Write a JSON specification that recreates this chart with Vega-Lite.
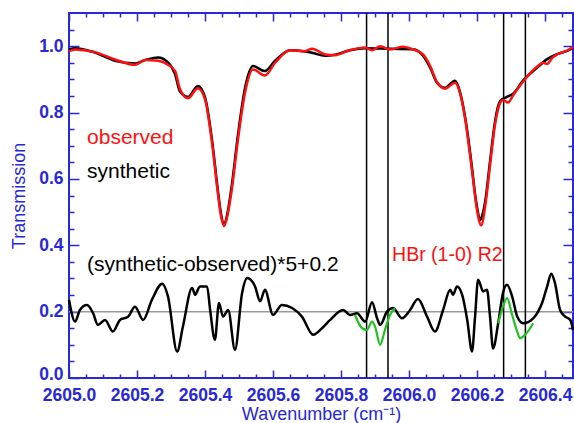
{
  "$schema": "https://vega.github.io/schema/vega-lite/v6.json",
  "width": 504,
  "height": 365,
  "autosize": "none",
  "padding": {"left": 69, "top": 13, "right": 1, "bottom": 45},
  "background": "white",
  "config": {
    "view": {"stroke": "#2828d4", "strokeWidth": 2},
    "axis": {
      "grid": false,
      "domain": false,
      "labelFont": "Liberation Sans",
      "labelFontWeight": "bold",
      "labelFontSize": 17.5,
      "labelColor": "#2828d4",
      "tickColor": "#2828d4",
      "tickWidth": 1.5,
      "titleFont": "Liberation Sans",
      "titleFontSize": 18,
      "titleFontWeight": "normal",
      "titleColor": "#2828d4",
      "labelFlush": false
    }
  },
  "datasets": {
    "curves": [
      {"x": 2605.000, "y": 0.990, "s": "synthetic"},
      {"x": 2605.018, "y": 0.994, "s": "synthetic"},
      {"x": 2605.076, "y": 0.981, "s": "synthetic"},
      {"x": 2605.135, "y": 0.956, "s": "synthetic"},
      {"x": 2605.194, "y": 0.948, "s": "synthetic"},
      {"x": 2605.224, "y": 0.958, "s": "synthetic"},
      {"x": 2605.262, "y": 0.966, "s": "synthetic"},
      {"x": 2605.291, "y": 0.951, "s": "synthetic"},
      {"x": 2605.312, "y": 0.915, "s": "synthetic"},
      {"x": 2605.326, "y": 0.864, "s": "synthetic"},
      {"x": 2605.350, "y": 0.847, "s": "synthetic"},
      {"x": 2605.379, "y": 0.880, "s": "synthetic"},
      {"x": 2605.400, "y": 0.846, "s": "synthetic"},
      {"x": 2605.421, "y": 0.714, "s": "synthetic"},
      {"x": 2605.438, "y": 0.563, "s": "synthetic"},
      {"x": 2605.447, "y": 0.495, "s": "synthetic"},
      {"x": 2605.456, "y": 0.462, "s": "synthetic"},
      {"x": 2605.465, "y": 0.492, "s": "synthetic"},
      {"x": 2605.479, "y": 0.583, "s": "synthetic"},
      {"x": 2605.497, "y": 0.734, "s": "synthetic"},
      {"x": 2605.518, "y": 0.876, "s": "synthetic"},
      {"x": 2605.541, "y": 0.940, "s": "synthetic"},
      {"x": 2605.576, "y": 0.925, "s": "synthetic"},
      {"x": 2605.606, "y": 0.956, "s": "synthetic"},
      {"x": 2605.650, "y": 0.988, "s": "synthetic"},
      {"x": 2605.694, "y": 0.984, "s": "synthetic"},
      {"x": 2605.715, "y": 0.980, "s": "synthetic"},
      {"x": 2605.753, "y": 0.971, "s": "synthetic"},
      {"x": 2605.782, "y": 0.974, "s": "synthetic"},
      {"x": 2605.826, "y": 0.988, "s": "synthetic"},
      {"x": 2605.871, "y": 0.994, "s": "synthetic"},
      {"x": 2605.944, "y": 0.992, "s": "synthetic"},
      {"x": 2606.012, "y": 0.991, "s": "synthetic"},
      {"x": 2606.041, "y": 0.971, "s": "synthetic"},
      {"x": 2606.062, "y": 0.935, "s": "synthetic"},
      {"x": 2606.082, "y": 0.890, "s": "synthetic"},
      {"x": 2606.106, "y": 0.875, "s": "synthetic"},
      {"x": 2606.135, "y": 0.896, "s": "synthetic"},
      {"x": 2606.150, "y": 0.861, "s": "synthetic"},
      {"x": 2606.165, "y": 0.785, "s": "synthetic"},
      {"x": 2606.185, "y": 0.634, "s": "synthetic"},
      {"x": 2606.194, "y": 0.555, "s": "synthetic"},
      {"x": 2606.200, "y": 0.514, "s": "synthetic"},
      {"x": 2606.209, "y": 0.477, "s": "synthetic"},
      {"x": 2606.215, "y": 0.490, "s": "synthetic"},
      {"x": 2606.224, "y": 0.533, "s": "synthetic"},
      {"x": 2606.238, "y": 0.653, "s": "synthetic"},
      {"x": 2606.253, "y": 0.775, "s": "synthetic"},
      {"x": 2606.268, "y": 0.835, "s": "synthetic"},
      {"x": 2606.288, "y": 0.847, "s": "synthetic"},
      {"x": 2606.306, "y": 0.857, "s": "synthetic"},
      {"x": 2606.335, "y": 0.896, "s": "synthetic"},
      {"x": 2606.376, "y": 0.935, "s": "synthetic"},
      {"x": 2606.406, "y": 0.961, "s": "synthetic"},
      {"x": 2606.435, "y": 0.976, "s": "synthetic"},
      {"x": 2606.465, "y": 0.986, "s": "synthetic"},
      {"x": 2606.482, "y": 0.994, "s": "synthetic"},

      {"x": 2605.000, "y": 0.985, "s": "observed"},
      {"x": 2605.018, "y": 0.990, "s": "observed"},
      {"x": 2605.076, "y": 0.982, "s": "observed"},
      {"x": 2605.135, "y": 0.960, "s": "observed"},
      {"x": 2605.194, "y": 0.944, "s": "observed"},
      {"x": 2605.224, "y": 0.958, "s": "observed"},
      {"x": 2605.262, "y": 0.956, "s": "observed"},
      {"x": 2605.291, "y": 0.944, "s": "observed"},
      {"x": 2605.312, "y": 0.925, "s": "observed"},
      {"x": 2605.326, "y": 0.872, "s": "observed"},
      {"x": 2605.350, "y": 0.843, "s": "observed"},
      {"x": 2605.379, "y": 0.873, "s": "observed"},
      {"x": 2605.400, "y": 0.840, "s": "observed"},
      {"x": 2605.421, "y": 0.705, "s": "observed"},
      {"x": 2605.438, "y": 0.555, "s": "observed"},
      {"x": 2605.447, "y": 0.488, "s": "observed"},
      {"x": 2605.456, "y": 0.458, "s": "observed"},
      {"x": 2605.465, "y": 0.485, "s": "observed"},
      {"x": 2605.479, "y": 0.570, "s": "observed"},
      {"x": 2605.497, "y": 0.720, "s": "observed"},
      {"x": 2605.518, "y": 0.862, "s": "observed"},
      {"x": 2605.541, "y": 0.930, "s": "observed"},
      {"x": 2605.576, "y": 0.912, "s": "observed"},
      {"x": 2605.606, "y": 0.950, "s": "observed"},
      {"x": 2605.650, "y": 0.988, "s": "observed"},
      {"x": 2605.694, "y": 0.985, "s": "observed"},
      {"x": 2605.715, "y": 0.992, "s": "observed"},
      {"x": 2605.753, "y": 0.975, "s": "observed"},
      {"x": 2605.782, "y": 0.973, "s": "observed"},
      {"x": 2605.826, "y": 0.988, "s": "observed"},
      {"x": 2605.871, "y": 0.996, "s": "observed"},
      {"x": 2605.891, "y": 0.988, "s": "observed"},
      {"x": 2605.915, "y": 1.000, "s": "observed"},
      {"x": 2605.944, "y": 0.990, "s": "observed"},
      {"x": 2605.982, "y": 0.998, "s": "observed"},
      {"x": 2606.012, "y": 0.990, "s": "observed"},
      {"x": 2606.041, "y": 0.975, "s": "observed"},
      {"x": 2606.062, "y": 0.940, "s": "observed"},
      {"x": 2606.082, "y": 0.892, "s": "observed"},
      {"x": 2606.106, "y": 0.872, "s": "observed"},
      {"x": 2606.135, "y": 0.890, "s": "observed"},
      {"x": 2606.150, "y": 0.858, "s": "observed"},
      {"x": 2606.165, "y": 0.780, "s": "observed"},
      {"x": 2606.185, "y": 0.625, "s": "observed"},
      {"x": 2606.200, "y": 0.505, "s": "observed"},
      {"x": 2606.212, "y": 0.460, "s": "observed"},
      {"x": 2606.224, "y": 0.520, "s": "observed"},
      {"x": 2606.238, "y": 0.640, "s": "observed"},
      {"x": 2606.253, "y": 0.765, "s": "observed"},
      {"x": 2606.268, "y": 0.830, "s": "observed"},
      {"x": 2606.276, "y": 0.838, "s": "observed"},
      {"x": 2606.291, "y": 0.830, "s": "observed"},
      {"x": 2606.306, "y": 0.852, "s": "observed"},
      {"x": 2606.335, "y": 0.893, "s": "observed"},
      {"x": 2606.376, "y": 0.938, "s": "observed"},
      {"x": 2606.394, "y": 0.950, "s": "observed"},
      {"x": 2606.406, "y": 0.946, "s": "observed"},
      {"x": 2606.421, "y": 0.965, "s": "observed"},
      {"x": 2606.435, "y": 0.975, "s": "observed"},
      {"x": 2606.465, "y": 0.987, "s": "observed"},
      {"x": 2606.482, "y": 0.997, "s": "observed"},

      {"x": 2605.000, "y": 0.236, "s": "residual"},
      {"x": 2605.018, "y": 0.170, "s": "residual"},
      {"x": 2605.032, "y": 0.205, "s": "residual"},
      {"x": 2605.053, "y": 0.220, "s": "residual"},
      {"x": 2605.071, "y": 0.195, "s": "residual"},
      {"x": 2605.085, "y": 0.160, "s": "residual"},
      {"x": 2605.106, "y": 0.175, "s": "residual"},
      {"x": 2605.129, "y": 0.140, "s": "residual"},
      {"x": 2605.150, "y": 0.175, "s": "residual"},
      {"x": 2605.174, "y": 0.185, "s": "residual"},
      {"x": 2605.194, "y": 0.215, "s": "residual"},
      {"x": 2605.218, "y": 0.175, "s": "residual"},
      {"x": 2605.244, "y": 0.236, "s": "residual"},
      {"x": 2605.274, "y": 0.284, "s": "residual"},
      {"x": 2605.291, "y": 0.246, "s": "residual"},
      {"x": 2605.318, "y": 0.080, "s": "residual"},
      {"x": 2605.335, "y": 0.155, "s": "residual"},
      {"x": 2605.362, "y": 0.271, "s": "residual"},
      {"x": 2605.371, "y": 0.251, "s": "residual"},
      {"x": 2605.385, "y": 0.276, "s": "residual"},
      {"x": 2605.406, "y": 0.276, "s": "residual"},
      {"x": 2605.415, "y": 0.205, "s": "residual"},
      {"x": 2605.429, "y": 0.115, "s": "residual"},
      {"x": 2605.441, "y": 0.226, "s": "residual"},
      {"x": 2605.453, "y": 0.185, "s": "residual"},
      {"x": 2605.468, "y": 0.205, "s": "residual"},
      {"x": 2605.488, "y": 0.085, "s": "residual"},
      {"x": 2605.509, "y": 0.256, "s": "residual"},
      {"x": 2605.524, "y": 0.301, "s": "residual"},
      {"x": 2605.547, "y": 0.276, "s": "residual"},
      {"x": 2605.562, "y": 0.231, "s": "residual"},
      {"x": 2605.576, "y": 0.266, "s": "residual"},
      {"x": 2605.600, "y": 0.190, "s": "residual"},
      {"x": 2605.626, "y": 0.220, "s": "residual"},
      {"x": 2605.656, "y": 0.211, "s": "residual"},
      {"x": 2605.685, "y": 0.185, "s": "residual"},
      {"x": 2605.718, "y": 0.130, "s": "residual"},
      {"x": 2605.744, "y": 0.150, "s": "residual"},
      {"x": 2605.768, "y": 0.175, "s": "residual"},
      {"x": 2605.806, "y": 0.205, "s": "residual"},
      {"x": 2605.826, "y": 0.190, "s": "residual"},
      {"x": 2605.847, "y": 0.195, "s": "residual"},
      {"x": 2605.871, "y": 0.170, "s": "residual"},
      {"x": 2605.891, "y": 0.228, "s": "residual"},
      {"x": 2605.906, "y": 0.180, "s": "residual"},
      {"x": 2605.915, "y": 0.160, "s": "residual"},
      {"x": 2605.935, "y": 0.200, "s": "residual"},
      {"x": 2605.953, "y": 0.211, "s": "residual"},
      {"x": 2605.979, "y": 0.180, "s": "residual"},
      {"x": 2606.003, "y": 0.205, "s": "residual"},
      {"x": 2606.026, "y": 0.238, "s": "residual"},
      {"x": 2606.053, "y": 0.185, "s": "residual"},
      {"x": 2606.076, "y": 0.140, "s": "residual"},
      {"x": 2606.100, "y": 0.205, "s": "residual"},
      {"x": 2606.121, "y": 0.266, "s": "residual"},
      {"x": 2606.129, "y": 0.251, "s": "residual"},
      {"x": 2606.141, "y": 0.276, "s": "residual"},
      {"x": 2606.156, "y": 0.251, "s": "residual"},
      {"x": 2606.171, "y": 0.175, "s": "residual"},
      {"x": 2606.185, "y": 0.080, "s": "residual"},
      {"x": 2606.194, "y": 0.185, "s": "residual"},
      {"x": 2606.203, "y": 0.296, "s": "residual"},
      {"x": 2606.218, "y": 0.261, "s": "residual"},
      {"x": 2606.229, "y": 0.266, "s": "residual"},
      {"x": 2606.238, "y": 0.185, "s": "residual"},
      {"x": 2606.247, "y": 0.089, "s": "residual"},
      {"x": 2606.262, "y": 0.165, "s": "residual"},
      {"x": 2606.276, "y": 0.256, "s": "residual"},
      {"x": 2606.288, "y": 0.281, "s": "residual"},
      {"x": 2606.303, "y": 0.246, "s": "residual"},
      {"x": 2606.318, "y": 0.185, "s": "residual"},
      {"x": 2606.335, "y": 0.165, "s": "residual"},
      {"x": 2606.365, "y": 0.180, "s": "residual"},
      {"x": 2606.391, "y": 0.226, "s": "residual"},
      {"x": 2606.406, "y": 0.276, "s": "residual"},
      {"x": 2606.418, "y": 0.314, "s": "residual"},
      {"x": 2606.429, "y": 0.286, "s": "residual"},
      {"x": 2606.444, "y": 0.205, "s": "residual"},
      {"x": 2606.459, "y": 0.185, "s": "residual"},
      {"x": 2606.474, "y": 0.175, "s": "residual"},
      {"x": 2606.482, "y": 0.145, "s": "residual"},

      {"x": 2605.841, "y": 0.190, "s": "green1"},
      {"x": 2605.862, "y": 0.150, "s": "green1"},
      {"x": 2605.876, "y": 0.145, "s": "green1"},
      {"x": 2605.891, "y": 0.170, "s": "green1"},
      {"x": 2605.900, "y": 0.155, "s": "green1"},
      {"x": 2605.915, "y": 0.100, "s": "green1"},
      {"x": 2605.929, "y": 0.145, "s": "green1"},
      {"x": 2605.944, "y": 0.190, "s": "green1"},
      {"x": 2605.959, "y": 0.211, "s": "green1"},

      {"x": 2606.262, "y": 0.165, "s": "green2"},
      {"x": 2606.276, "y": 0.215, "s": "green2"},
      {"x": 2606.288, "y": 0.241, "s": "green2"},
      {"x": 2606.303, "y": 0.190, "s": "green2"},
      {"x": 2606.318, "y": 0.140, "s": "green2"},
      {"x": 2606.326, "y": 0.120, "s": "green2"},
      {"x": 2606.341, "y": 0.130, "s": "green2"},
      {"x": 2606.365, "y": 0.165, "s": "green2"}
    ],
    "vlines": [
      {"xv": 2605.875},
      {"xv": 2605.938},
      {"xv": 2606.278},
      {"xv": 2606.342}
    ],
    "hline": [{"yv": 0.2}],
    "labels": [
      {"label": "observed", "lx": 2605.053, "ly": 0.722, "c": "red", "fs": 21},
      {"label": "synthetic", "lx": 2605.053, "ly": 0.622, "c": "black", "fs": 21},
      {"label": "(synthetic-observed)*5+0.2", "lx": 2605.053, "ly": 0.341, "c": "black", "fs": 21},
      {"label": "HBr (1-0) R2", "lx": 2605.950, "ly": 0.372, "c": "red", "fs": 19.5}
    ]
  },
  "resolve": {"axis": {"x": "independent", "y": "independent"}},
  "layer": [
    {
      "data": {"name": "hline"},
      "mark": {"type": "rule", "color": "#9a9a9a", "strokeWidth": 1.5},
      "encoding": {
        "y": {"field": "yv", "type": "quantitative", "scale": {"domain": [0, 1.1], "nice": false, "zero": false},
          "axis": {"orient": "left", "values": [0, 0.2, 0.4, 0.6, 0.8, 1.0], "format": ".1f", "tickSize": -10, "labelPadding": 16, "labelOffset": {"condition": {"test": "datum.value == 0", "value": -4}, "value": 0}, "title": "Transmission", "titlePadding": 10}}
      }
    },
    {
      "data": {"name": "vlines"},
      "mark": {"type": "rule", "color": "black", "strokeWidth": 1.5},
      "encoding": {
        "x": {"field": "xv", "type": "quantitative", "scale": {"domain": [2605.0, 2606.482], "nice": false, "zero": false},
          "axis": {"orient": "bottom", "values": [2605.0, 2605.2, 2605.4, 2605.6, 2605.8, 2606.0, 2606.2, 2606.4], "format": ".1f", "tickSize": -8, "labelPadding": 16, "title": "Wavenumber (cm\u207b\u00b9)", "titlePadding": 2}}
      }
    },
    {
      "data": {"name": "curves"},
      "transform": [{"filter": "datum.s === 'synthetic'"}],
      "mark": {"type": "line", "color": "black", "strokeWidth": 2.5, "interpolate": "monotone"},
      "encoding": {
        "x": {"field": "x", "type": "quantitative", "axis": {"orient": "bottom", "values": [2605.05, 2605.1, 2605.15, 2605.25, 2605.3, 2605.35, 2605.45, 2605.5, 2605.55, 2605.65, 2605.7, 2605.75, 2605.85, 2605.9, 2605.95, 2606.05, 2606.1, 2606.15, 2606.25, 2606.3, 2606.35, 2606.45], "labels": false, "tickSize": -4, "title": null}},
        "y": {"field": "y", "type": "quantitative", "axis": {"orient": "left", "values": [0.05, 0.1, 0.15, 0.25, 0.3, 0.35, 0.45, 0.5, 0.55, 0.65, 0.7, 0.75, 0.85, 0.9, 0.95, 1.05], "labels": false, "tickSize": -5, "title": null}}
      }
    },
    {
      "data": {"name": "curves"},
      "transform": [{"filter": "datum.s === 'observed'"}],
      "mark": {"type": "line", "color": "#ff1010", "strokeWidth": 2.5, "interpolate": "monotone"},
      "encoding": {
        "x": {"field": "x", "type": "quantitative", "axis": {"orient": "top", "values": [2605.0, 2605.2, 2605.4, 2605.6, 2605.8, 2606.0, 2606.2, 2606.4], "labels": false, "tickSize": -8, "title": null}},
        "y": {"field": "y", "type": "quantitative", "axis": {"orient": "right", "values": [0, 0.2, 0.4, 0.6, 0.8, 1.0], "labels": false, "tickSize": -10, "title": null}}
      }
    },
    {
      "data": {"name": "curves"},
      "transform": [{"filter": "datum.s === 'residual'"}],
      "mark": {"type": "line", "color": "black", "strokeWidth": 2.5, "interpolate": "monotone"},
      "encoding": {
        "x": {"field": "x", "type": "quantitative", "axis": {"orient": "top", "values": [2605.05, 2605.1, 2605.15, 2605.25, 2605.3, 2605.35, 2605.45, 2605.5, 2605.55, 2605.65, 2605.7, 2605.75, 2605.85, 2605.9, 2605.95, 2606.05, 2606.1, 2606.15, 2606.25, 2606.3, 2606.35, 2606.45], "labels": false, "tickSize": -4, "title": null}},
        "y": {"field": "y", "type": "quantitative", "axis": {"orient": "right", "values": [0.05, 0.1, 0.15, 0.25, 0.3, 0.35, 0.45, 0.5, 0.55, 0.65, 0.7, 0.75, 0.85, 0.9, 0.95, 1.05], "labels": false, "tickSize": -5, "title": null}}
      }
    },
    {
      "data": {"name": "curves"},
      "transform": [{"filter": "datum.s === 'green1' || datum.s === 'green2'"}],
      "mark": {"type": "line", "color": "#22c022", "strokeWidth": 2.2, "interpolate": "monotone"},
      "encoding": {
        "x": {"field": "x", "type": "quantitative", "axis": null},
        "y": {"field": "y", "type": "quantitative", "axis": null},
        "detail": {"field": "s"}
      }
    },
    {
      "data": {"name": "labels"},
      "transform": [{"filter": "datum.c === 'black'"}],
      "mark": {"type": "text", "align": "left", "baseline": "middle", "font": "Liberation Sans", "fontSize": 21, "color": "black"},
      "encoding": {
        "x": {"field": "lx", "type": "quantitative", "axis": null},
        "y": {"field": "ly", "type": "quantitative", "axis": null},
        "text": {"field": "label"}
      }
    },
    {
      "data": {"name": "labels"},
      "transform": [{"filter": "datum.c === 'red'"}],
      "mark": {"type": "text", "align": "left", "baseline": "middle", "font": "Liberation Sans", "color": "#ff1010"},
      "encoding": {
        "x": {"field": "lx", "type": "quantitative", "axis": null},
        "y": {"field": "ly", "type": "quantitative", "axis": null},
        "text": {"field": "label"},
        "size": {"field": "fs", "type": "quantitative", "scale": null, "legend": null}
      }
    }
  ]
}
